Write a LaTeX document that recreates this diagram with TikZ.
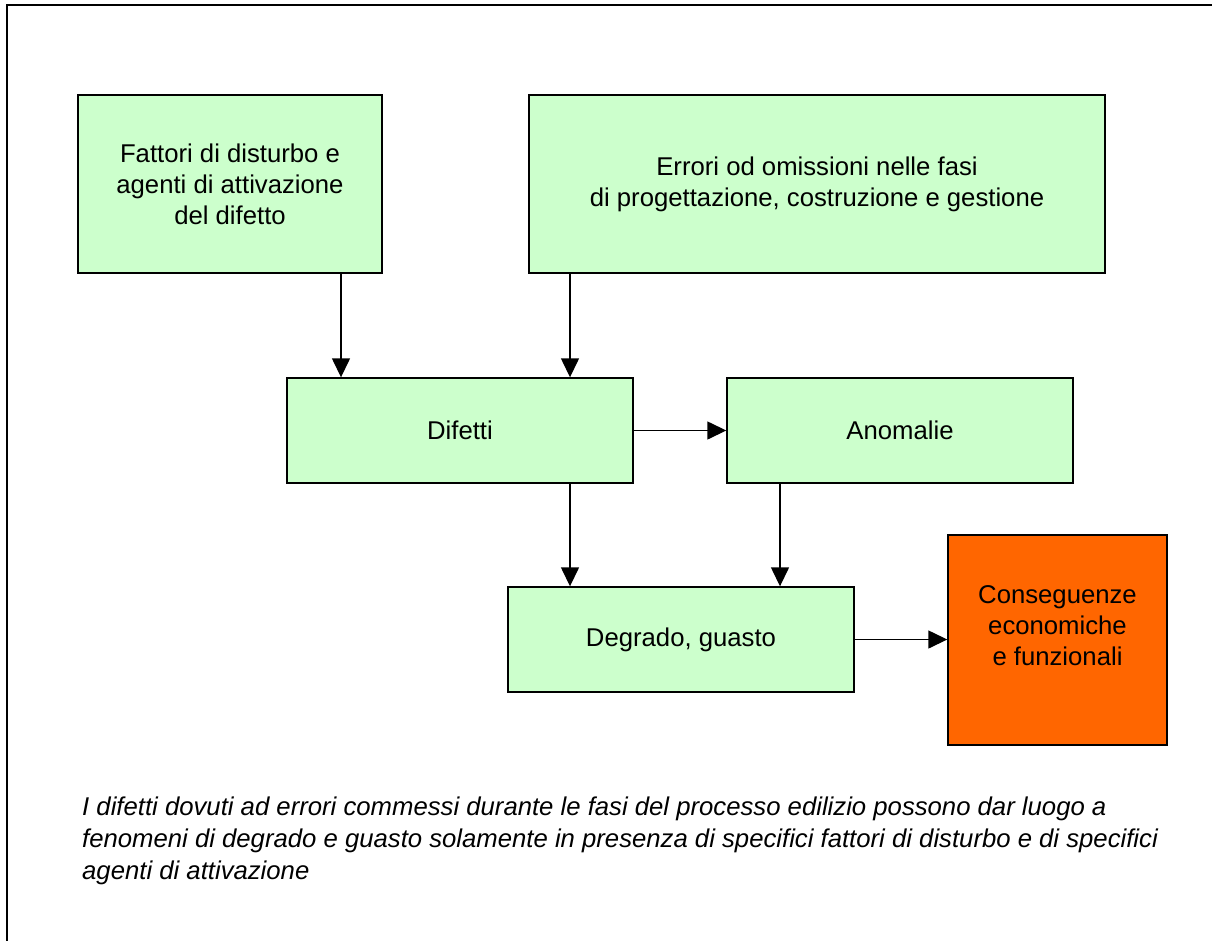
\documentclass[tikz,border=0pt]{standalone}
\usepackage{fontspec}
\setmainfont{Liberation Sans}
\usetikzlibrary{arrows.meta}
\definecolor{boxgreen}{HTML}{CCFFCC}
\definecolor{boxorange}{HTML}{FF6600}
\begin{document}
\begin{tikzpicture}[x=1pt,y=-1pt,
  boxfont/.style={font=\fontsize{25.7}{31}\selectfont},
  box/.style={draw=black,line width=1.4pt,fill=boxgreen,rectangle,align=center,inner sep=0pt,boxfont},
  arr/.style={line width=1.4pt,-{Triangle[width=18pt,length=19pt]}}]
\useasboundingbox (0,0) rectangle (1212,940);
\begin{scope}
\clip (0,0) rectangle (1212,940);
\draw[line width=2pt] (7,5) rectangle (1230,960);
\end{scope}
\node[box,minimum width=304pt,minimum height=178pt] (A) at (230,184) {Fattori di disturbo e\\agenti di attivazione\\del difetto};
\node[box,minimum width=576pt,minimum height=178pt] (B) at (817,184) {Errori od omissioni nelle fasi\\di progettazione, costruzione e gestione};
\node[box,minimum width=346pt,minimum height=105pt] (D) at (460,430.5) {Difetti};
\node[box,minimum width=346pt,minimum height=105pt] (N) at (900,430.5) {Anomalie};
\node[box,minimum width=346pt,minimum height=105pt] (G) at (681,639.5) {Degrado, guasto};
\node[box,fill=boxorange,minimum width=219pt,minimum height=210pt] (C) at (1057.5,640) {};
\node[boxfont,align=center,inner sep=0pt] (Ct) at (1057.5,626) {Conseguenze\\economiche\\e funzionali};
\coordinate (xa) at (341,0);
\coordinate (xb) at (570,0);
\coordinate (xn) at (780,0);
\draw[arr] (A.south -| xa) -- (D.north -| xa);
\draw[arr] (B.south -| xb) -- (D.north -| xb);
\draw[arr] (D.east) -- (N.west);
\draw[arr] (D.south -| xb) -- (G.north -| xb);
\draw[arr] (N.south -| xn) -- (G.north -| xn);
\draw[arr] (G.east) -- (G.east -| C.west);
\node[anchor=north west,align=left,inner sep=0pt,font=\fontsize{25.7}{32}\selectfont\itshape] (T) at (82,797)
 {I difetti dovuti ad errori commessi durante le fasi del processo edilizio possono dar luogo a\\fenomeni di degrado e guasto solamente in presenza di specifici fattori di disturbo e di specifici\\agenti di attivazione};
\end{tikzpicture}
\end{document}
